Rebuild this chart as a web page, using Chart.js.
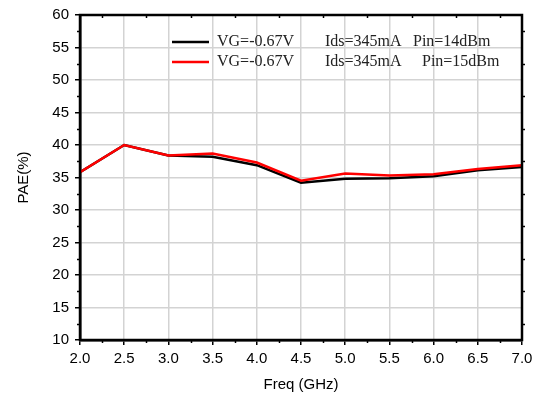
<!DOCTYPE html>
<html>
<head>
<meta charset="utf-8">
<script src="https://cdn.jsdelivr.net/npm/chart.js@4/dist/chart.umd.min.js"></script>
<style>
  html, body { margin: 0; padding: 0; background: #fff; }
  #wrap { width: 541px; height: 396px; }
</style>
</head>
<body>
<div id="wrap"><canvas id="paeChart" width="541" height="396"></canvas></div>
<script>
const freqs = [2.0, 2.5, 3.0, 3.5, 4.0, 4.5, 5.0, 5.5, 6.0, 6.5, 7.0];
const pae14 = [35.8, 40.0, 38.4, 38.2, 36.9, 34.2, 34.8, 34.9, 35.2, 36.1, 36.6];
const pae15 = [35.8, 40.0, 38.4, 38.7, 37.3, 34.5, 35.6, 35.3, 35.5, 36.3, 36.9];
const legend14 = ["VG=-0.67V", "Ids=345mA", "Pin=14dBm"];
const legend15 = ["VG=-0.67V", "Ids=345mA", "Pin=15dBm"];

const toPoints = (ys) => freqs.map((f, i) => ({ x: f, y: ys[i] }));

// minor ticks halfway between the labelled ones, plus the closed frame
const frameAndMinor = {
  id: "frameAndMinor",
  afterDatasetsDraw(chart) {
    const { ctx, chartArea: a, scales } = chart;
    ctx.save();
    ctx.strokeStyle = "#000";
    ctx.lineWidth = 1.5;
    const xs = scales.x, ys = scales.y;
    for (let v = 2.25; v < 7; v += 0.5) {
      const px = Math.round(xs.getPixelForValue(v)) + 0.5;
      ctx.beginPath(); ctx.moveTo(px, a.bottom); ctx.lineTo(px, a.bottom + 3); ctx.stroke();
      ctx.beginPath(); ctx.moveTo(px, a.top); ctx.lineTo(px, a.top + 3); ctx.stroke();
    }
    for (let v = 12.5; v < 60; v += 5) {
      const py = Math.round(ys.getPixelForValue(v)) + 0.5;
      ctx.beginPath(); ctx.moveTo(a.left - 3, py); ctx.lineTo(a.left, py); ctx.stroke();
      ctx.beginPath(); ctx.moveTo(a.right, py); ctx.lineTo(a.right + 3, py); ctx.stroke();
    }
    ctx.lineWidth = 2.5;
    ctx.strokeRect(a.left, a.top, a.right - a.left, a.bottom - a.top);
    ctx.restore();
  }
};

// legend drawn inside the plot, without a box
const innerLegend = {
  id: "innerLegend",
  afterDraw(chart) {
    const { ctx, chartArea: a } = chart;
    const rows = [
      { color: "#000", parts: legend14, cols: [0, 108, 196] },
      { color: "#ff0000", parts: legend15, cols: [0, 108, 205] }
    ];
    ctx.save();
    ctx.font = "16px 'Liberation Serif'";
    ctx.textBaseline = "middle";
    ctx.fillStyle = "#222";
    rows.forEach((r, i) => {
      const y = a.top + 27 + i * 20;
      ctx.strokeStyle = r.color;
      ctx.lineWidth = 2.5;
      ctx.beginPath(); ctx.moveTo(a.left + 92, y); ctx.lineTo(a.left + 129, y); ctx.stroke();
      r.parts.forEach((p, k) => ctx.fillText(p, a.left + 137 + r.cols[k], y));
    });
    ctx.restore();
  }
};

const paeChart = new Chart(document.getElementById("paeChart").getContext("2d"), {
  type: "line",
  data: {
    datasets: [
      {
        label: legend14.join("    "),
        data: toPoints(pae14),
        borderColor: "#000000",
        borderWidth: 2.5,
        pointRadius: 0,
        tension: 0,
        order: 2,
      },
      {
        label: legend15.join("    "),
        data: toPoints(pae15),
        borderColor: "#ff0000",
        borderWidth: 2.5,
        pointRadius: 0,
        tension: 0,
        order: 1,
      },
    ],
  },
  options: {
    responsive: false,
    animation: false,
    layout: { padding: { top: 14, right: 19, left: 0, bottom: 0 } },
    plugins: { legend: { display: false }, tooltip: { enabled: false } },
    scales: {
      x: {
        type: "linear",
        min: 2,
        max: 7,
        afterFit: (s) => { s.height = 56; },
        ticks: {
          stepSize: 0.5,
          padding: 5,
          color: "#000",
          font: { family: "'Liberation Sans', Arial", size: 15 },
          callback: (v) => Number(v).toFixed(1),
        },
        grid: { color: "#d3d3d3", lineWidth: 1.5, tickColor: "#000", tickLength: 5 },
        border: { color: "#000", width: 2.5 },
        title: {
          display: true,
          text: "Freq (GHz)",
          color: "#000",
          font: { family: "'Liberation Sans', Arial", size: 15 },
          padding: { top: 0, bottom: 2 },
        },
      },
      y: {
        min: 10,
        max: 60,
        afterFit: (s) => { s.width = 80; },
        ticks: {
          stepSize: 5,
          padding: 6,
          color: "#000",
          font: { family: "'Liberation Sans', Arial", size: 15 },
        },
        grid: { color: "#d3d3d3", lineWidth: 1.5, tickColor: "#000", tickLength: 5 },
        border: { color: "#000", width: 2.5 },
        title: {
          display: true,
          text: "PAE(%)",
          color: "#000",
          font: { family: "'Liberation Sans', Arial", size: 15 },
          padding: { top: 15, bottom: 0 },
        },
      },
    },
  },
  plugins: [frameAndMinor, innerLegend],
});
</script>
</body>
</html>
